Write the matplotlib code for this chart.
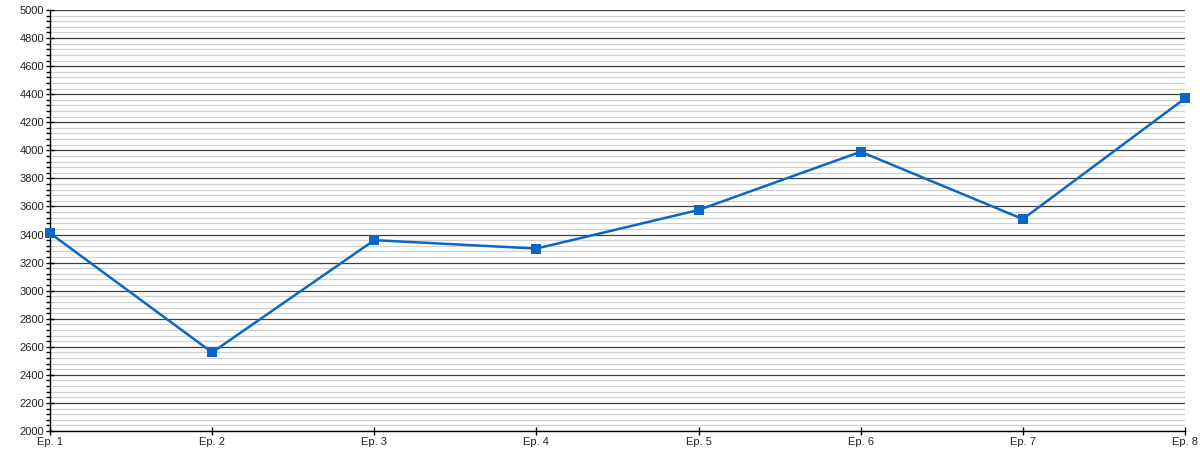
import matplotlib
matplotlib.use("Agg")
import matplotlib.pyplot as plt
from matplotlib.ticker import MultipleLocator

categories = ["Ep. 1", "Ep. 2", "Ep. 3", "Ep. 4", "Ep. 5", "Ep. 6", "Ep. 7", "Ep. 8"]
values = [3410, 2560, 3360, 3300, 3575, 3990, 3510, 4370]

plt.rcParams['font.family'] = ['Liberation Sans', 'DejaVu Sans']

fig = plt.figure(figsize=(12, 4.5), dpi=100)
ax = fig.add_axes([50/1200, 1 - 431/450, 1135/1200, 421/450])

x = list(range(len(categories)))
ax.plot(x, values, color="#0a68c4", linewidth=1.8, marker="s", markersize=6.5,
        markeredgewidth=0, zorder=3, clip_on=False)

ax.set_xlim(0, len(categories) - 1)
ax.set_ylim(2000, 5000)
ax.set_xticks(x)
ax.set_xticklabels(categories)
ax.yaxis.set_major_locator(MultipleLocator(200))
ax.yaxis.set_minor_locator(MultipleLocator(40))

ax.grid(which="major", axis="y", color="#404040", linewidth=0.9)
ax.grid(which="minor", axis="y", color="#d0d0d0", linewidth=0.9)
ax.set_axisbelow(True)

for s in ["top", "right"]:
    ax.spines[s].set_visible(False)
for s in ["left", "bottom"]:
    ax.spines[s].set_color("#000000")
    ax.spines[s].set_linewidth(1.0)

ax.tick_params(axis="both", which="major", direction="inout", length=6, width=1,
               labelsize=8, colors="#000000", labelcolor="#222222", pad=1)
ax.tick_params(axis="y", which="minor", direction="out", length=3, width=1)

fig.savefig("out.png", dpi=100, facecolor="white")
